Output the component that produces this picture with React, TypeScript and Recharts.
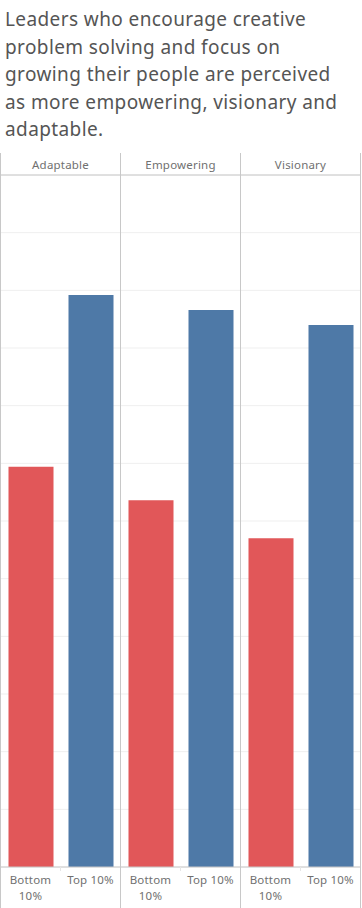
import React from 'react';
import { BarChart, Bar, XAxis, YAxis, CartesianGrid } from 'recharts';

const measures = ['Adaptable', 'Empowering', 'Visionary'];
const bottom10 = [34.7, 31.8, 28.5];
const top10 = [49.6, 48.3, 47.0];
const groupLabels = ['Bottom 10%', 'Top 10%'];
const yTicks = [0, 5, 10, 15, 20, 25, 30, 35, 40, 45, 50, 55, 60];
const titleLines = [
  'Leaders who encourage creative',
  'problem solving and focus on',
  'growing their people are perceived',
  'as more empowering, visionary and',
  'adaptable.',
];

const data = measures.map((m, i) => ({ measure: m, bottom: bottom10[i], top: top10[i] }));

const FONT = '"Noto Sans", sans-serif';
const BAND = 120;
const LINE_TOP = 153;
const CHART_H = 908;
const TICK_FS = 11.5;
const TICK_COLOR = '#707070';
const TICK_LS = 0.2;

const TopTick = (props: any) => {
  const { x, y, payload, index } = props;
  const left = x - BAND / 2;
  const right = x + BAND / 2;
  return (
    <g>
      <line x1={left} x2={left} y1={LINE_TOP} y2={CHART_H} stroke="#c8c8c8" strokeWidth={1} />
      {index === measures.length - 1 && (
        <line x1={right} x2={right} y1={LINE_TOP} y2={CHART_H} stroke="#c8c8c8" strokeWidth={1} />
      )}
      <text x={x} y={y - 6} textAnchor="middle" fontFamily={FONT} fontSize={TICK_FS} letterSpacing={TICK_LS} fill={TICK_COLOR}>
        {payload.value}
      </text>
    </g>
  );
};

const BottomTick = (props: any) => {
  const { x, y } = props;
  const lx = x - BAND / 4;
  const rx = x + BAND / 4;
  const [bl, tl] = groupLabels;
  const blParts = bl.split(' ');
  return (
    <g>
      <line x1={x} x2={x} y1={y} y2={y + 4} stroke="#e6e6e6" strokeWidth={1} />
      <text x={lx} y={y + 17} textAnchor="middle" fontFamily={FONT} fontSize={TICK_FS} letterSpacing={TICK_LS} fill={TICK_COLOR}>
        {blParts[0]}
      </text>
      <text x={lx} y={y + 33} textAnchor="middle" fontFamily={FONT} fontSize={TICK_FS} letterSpacing={TICK_LS} fill={TICK_COLOR}>
        {blParts[1]}
      </text>
      <text x={rx} y={y + 17} textAnchor="middle" fontFamily={FONT} fontSize={TICK_FS} letterSpacing={TICK_LS} fill={TICK_COLOR}>
        {tl}
      </text>
    </g>
  );
};

export default function App() {
  return (
    <div style={{ position: 'absolute', left: 0, top: 0, width: 362, height: 908, background: '#fff' }}>
      <div
        style={{
          position: 'absolute',
          left: 5,
          top: 6,
          fontFamily: FONT,
          fontSize: 19,
          letterSpacing: 0.4,
          lineHeight: '27.5px',
          color: '#555555',
          whiteSpace: 'nowrap',
        }}
      >
        {titleLines.map((l, i) => (
          <div key={i}>{l}</div>
        ))}
      </div>
      <div style={{ position: 'absolute', left: 0, top: 0 }}>
        <BarChart
          width={362}
          height={908}
          data={data}
          margin={{ top: 155, right: 1.5, bottom: 0, left: 0.5 }}
          barSize={45}
          barGap={15}
        >
          <CartesianGrid horizontal vertical={false} stroke="#efefef" />
          <XAxis
            xAxisId="top"
            orientation="top"
            dataKey="measure"
            height={20}
            axisLine={{ stroke: '#c8c8c8' }}
            tickLine={false}
            tickSize={0}
            tickMargin={0}
            tick={<TopTick />}
            interval={0}
          />
          <XAxis
            xAxisId="bottom"
            dataKey="measure"
            height={41}
            axisLine={{ stroke: '#c8c8c8' }}
            tickLine={false}
            tickSize={0}
            tickMargin={0}
            tick={<BottomTick />}
            interval={0}
          />
          <YAxis hide domain={[0, 60]} ticks={yTicks} />
          <Bar xAxisId="bottom" dataKey="bottom" fill="#E15759" isAnimationActive={false} />
          <Bar xAxisId="bottom" dataKey="top" fill="#4E79A7" isAnimationActive={false} />
        </BarChart>
      </div>
    </div>
  );
}
